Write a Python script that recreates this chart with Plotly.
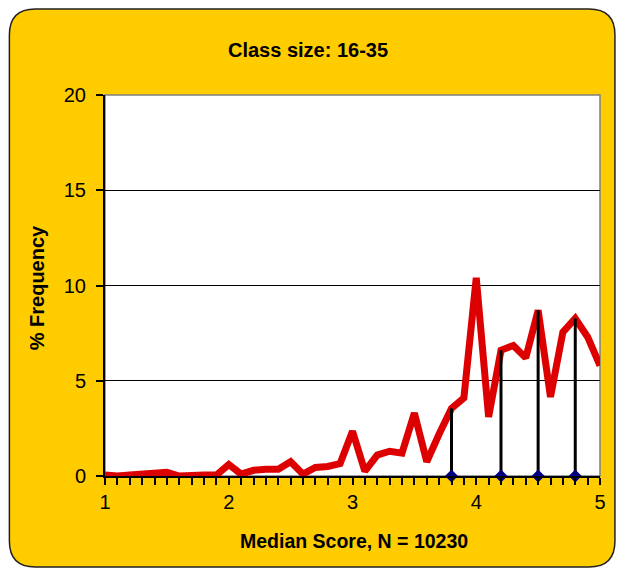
import plotly.graph_objects as go

# Data
scores = [round(1 + 0.1 * i, 1) for i in range(41)]
freq = [0.05, 0.0, 0.05, 0.1, 0.1, 0.2, 0.0, 0.05, 0.05, 0.05,
        0.6, 0.1, 0.3, 0.35, 0.35, 0.75, 0.1, 0.45, 0.5, 0.65,
        2.35, 0.25, 1.1, 1.3, 1.2, 3.3, 0.75, 2.2, 3.55, 4.1,
        10.4, 3.1, 6.6, 6.85, 6.2, 8.7, 4.15, 7.55, 8.27, 7.3,
        5.8]
marker_x = [3.8, 4.2, 4.5, 4.8]
marker_h = [3.55, 6.6, 8.7, 8.27]

W, H = 618, 569
ML, MT = 105, 95
PR, PB = 602, 476
MR, MB = W - PR, H - PB
PW, PH = PR - ML, PB - MT

def px(x):
    return (x - ML) / PW

def py(y):
    return (PB - y) / PH

def rounded_rect(x0, y0, x1, y1, r):
    rx = r / PW
    ry = r / PH
    X0, X1, Y0, Y1 = px(x0), px(x1), py(y0), py(y1)
    pts = [
        f"M {X0 + rx},{Y0}",
        f"L {X1 - rx},{Y0}",
        f"Q {X1},{Y0} {X1},{Y0 - ry}",
        f"L {X1},{Y1 + ry}",
        f"Q {X1},{Y1} {X1 - rx},{Y1}",
        f"L {X0 + rx},{Y1}",
        f"Q {X0},{Y1} {X0},{Y1 + ry}",
        f"L {X0},{Y0 - ry}",
        f"Q {X0},{Y0} {X0 + rx},{Y0}",
        "Z",
    ]
    return " ".join(pts)

FONT = "Liberation Sans Narrow, Arial Narrow, Liberation Sans, Arial, sans-serif"

fig = go.Figure()

fig.add_trace(go.Scatter(
    x=scores, y=freq, mode="lines",
    line=dict(color="#DD0000", width=7),
    hoverinfo="x+y", showlegend=False,
))

# vertical drop lines
for mx, mh in zip(marker_x, marker_h):
    fig.add_trace(go.Scatter(
        x=[mx, mx], y=[0, mh], mode="lines",
        line=dict(color="black", width=3),
        showlegend=False, hoverinfo="skip",
    ))

fig.add_trace(go.Scatter(
    x=marker_x, y=[0] * len(marker_x), mode="markers",
    marker=dict(symbol="diamond", color="#000080", size=10),
    showlegend=False, cliponaxis=False,
))

fig.update_layout(
    width=W, height=H,
    margin=dict(l=ML, r=MR, t=MT, b=MB),
    paper_bgcolor="white",
    plot_bgcolor="rgba(0,0,0,0)",
    font=dict(family=FONT, color="black", size=20),
    shapes=[
        dict(type="path", xref="paper", yref="paper",
             path=rounded_rect(9, 9, 617, 567, 26),
             fillcolor="#FFCC00", line=dict(color="#222222", width=1.5),
             layer="below"),
        dict(type="rect", xref="paper", yref="paper", x0=0, x1=1, y0=0, y1=1,
             fillcolor="white", line=dict(color="#808080", width=1.5),
             layer="below"),
    ],
    annotations=[
        dict(text="<b>Class size: 16-35</b>", xref="paper", yref="paper",
             x=px(309), y=py(50), showarrow=False,
             font=dict(size=20, family=FONT), xanchor="center", yanchor="middle"),
        dict(text="<b>Median Score, N = 10230</b>", xref="paper", yref="paper",
             x=px(355), y=py(541), showarrow=False,
             font=dict(size=19.5, family=FONT), xanchor="center", yanchor="middle"),
        dict(text="<b>% Frequency</b>", xref="paper", yref="paper",
             x=px(37), y=py(288), showarrow=False, textangle=-90,
             font=dict(size=20, family=FONT), xanchor="center", yanchor="middle"),
    ],
    xaxis=dict(
        range=[1, 5], tickvals=[1, 2, 3, 4, 5],
        ticks="outside", ticklen=7, tickwidth=1.5, tickcolor="black",
        minor=dict(dtick=0.1, ticks="outside", ticklen=7, tickwidth=1.5, tickcolor="black", showgrid=False),
        showline=True, linecolor="black", linewidth=2,
        showgrid=False, zeroline=False, fixedrange=True,
        tickfont=dict(size=20),
    ),
    yaxis=dict(
        range=[0, 20], tickvals=[0, 5, 10, 15, 20],
        ticks="outside", ticklen=7, tickwidth=1.5, tickcolor="black",
        ticklabelstandoff=6,
        showline=True, linecolor="black", linewidth=2,
        showgrid=True, gridcolor="black", gridwidth=1.2,
        zeroline=False, fixedrange=True,
        tickfont=dict(size=20),
    ),
)

fig.write_html(
    "out.html",
    config={"displayModeBar": False},
    post_script="document.body.style.margin='0';document.body.style.overflow='hidden';",
)
